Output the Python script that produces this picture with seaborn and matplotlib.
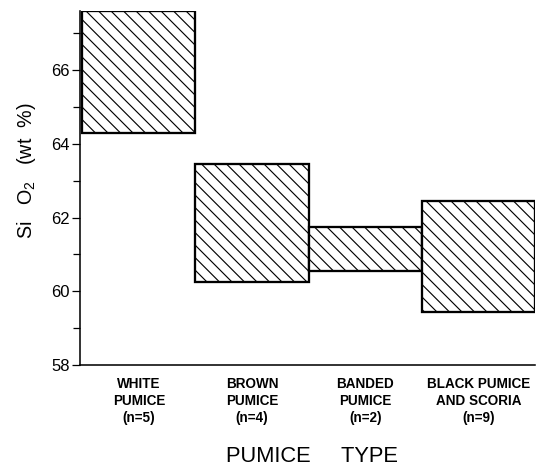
import pandas as pd
import seaborn as sns
import matplotlib.pyplot as plt

# SiO2 ranges per pumice type
pumice_types = ['WHITE\nPUMICE\n(n=5)', 'BROWN\nPUMICE\n(n=4)',
                'BANDED\nPUMICE\n(n=2)', 'BLACK PUMICE\nAND SCORIA\n(n=9)']
sio2_low = [64.3, 60.25, 60.55, 59.45]
sio2_high = [67.6, 63.45, 61.75, 62.45]
y_ticks = [58, 60, 62, 64, 66]

df = pd.DataFrame({'type': pumice_types, 'low': sio2_low, 'high': sio2_high})
df['span'] = df['high'] - df['low']

sns.set_style('ticks')
plt.rcParams['font.family'] = ['Liberation Sans', 'DejaVu Sans']
plt.rcParams['mathtext.default'] = 'regular'
plt.rcParams['hatch.linewidth'] = 1.1
for key in ['text.color', 'axes.labelcolor', 'xtick.color', 'ytick.color']:
    plt.rcParams[key] = 'black'

fig = plt.figure(figsize=(544 / 75, 469 / 75), dpi=75)
ax = fig.add_axes([80 / 544, 1 - 365 / 469, 455 / 544, 354 / 469])

sns.barplot(data=df, x='type', y='span', bottom=df['low'].values, width=1.0,
            color='white', saturation=1, edgecolor='black', linewidth=2.2,
            hatch='\\\\', ax=ax)

ax.set_xlim(-0.52, 3.5)
ax.set_ylim(58, 67.6)
ax.set_yticks(y_ticks)
ax.set_yticks([59, 61, 63, 65, 67], minor=True)
ax.tick_params(axis='y', which='major', length=8, width=1.2, labelsize=16, pad=2)
ax.tick_params(axis='y', which='minor', length=7, width=1.2)
ax.tick_params(axis='x', length=0, labelsize=13, pad=12)
for lab in ax.get_xticklabels():
    lab.set_linespacing(1.25)
    lab.set_fontweight('bold')

sns.despine(ax=ax)
for s in ['left', 'bottom']:
    ax.spines[s].set_linewidth(1.5)
    ax.spines[s].set_color('black')

ax.set_ylabel('Si   O$_2$   (wt  %)', fontsize=19)
ax.yaxis.set_label_coords(-(80 - 38) / 455, (365 - 171) / 354)
ax.set_xlabel('PUMICE     TYPE', fontsize=21)
ax.xaxis.set_label_coords((312 - 80) / 455, -(457 - 365) / 354)
ax.xaxis.label.set_va('center')

plt.savefig('out.png', dpi=75)
